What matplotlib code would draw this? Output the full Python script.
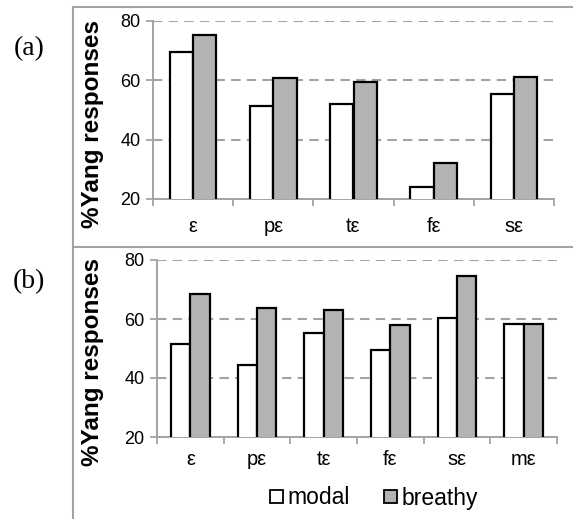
import matplotlib
matplotlib.use("Agg")
import matplotlib.pyplot as plt
import numpy as np
from matplotlib.patches import Patch
from matplotlib.lines import Line2D

cats_a = ["ε", "pε", "tε", "fε", "sε"]
modal_a = [69.4, 51.5, 51.9, 24.0, 55.3]
breathy_a = [75.4, 60.7, 59.5, 32.1, 61.1]

cats_b = ["ε", "pε", "tε", "fε", "sε", "mε"]
modal_b = [51.5, 44.5, 55.3, 49.4, 60.2, 58.4]
breathy_b = [68.5, 63.8, 63.2, 57.9, 74.5, 58.4]

yticks = [20, 40, 60, 80]
series_names = ["modal", "breathy"]
ylabel = "%Yang responses"

plt.rcParams['font.family'] = ['Liberation Sans', 'DejaVu Sans']

W, H = 573, 519
fig = plt.figure(figsize=(W / 100, H / 100), dpi=100)

GRAY = "#a3a3a3"
BAR_GRAY = "#b3b3b3"


def panel(px, cats, modal, breathy, xpad):
    l, r, t, b = px
    ax = fig.add_axes([l / W, 1 - b / H, (r - l) / W, (b - t) / H])
    n = len(cats)
    x = np.arange(n)
    w = 0.29
    ax.bar(x - w / 2, modal, w, bottom=0, color="white", edgecolor="black", linewidth=1.6, zorder=3)
    ax.bar(x + w / 2, breathy, w, bottom=0, color=BAR_GRAY, edgecolor="black", linewidth=1.6, zorder=3)
    ax.set_ylim(20, 80)
    ax.set_xlim(-0.5, n - 0.5)
    ax.set_yticks(yticks)
    ax.set_yticklabels([str(t) for t in yticks], fontsize=13)
    for tv in yticks[1:]:
        ax.axhline(tv, color=GRAY, linestyle=(0, (4.5, 3)), linewidth=1.5, zorder=1)
    ax.set_xticks(x)
    ax.set_xticklabels(cats, fontsize=14.5)
    ax.set_xticks(np.arange(n + 1) - 0.5, minor=True)
    ax.tick_params(axis="x", which="major", length=0, pad=xpad)
    ax.tick_params(axis="x", which="minor", length=5, color=GRAY, width=1.3)
    ax.tick_params(axis="y", length=5, color=GRAY, width=1.3, pad=4)
    for s in ["top", "right"]:
        ax.spines[s].set_visible(False)
    for s in ["left", "bottom"]:
        ax.spines[s].set_color(GRAY)
        ax.spines[s].set_linewidth(1.4)
    return ax


ax_a = panel((153, 554, 21, 199), cats_a, modal_a, breathy_a, 13)
ax_b = panel((157, 557, 260, 437), cats_b, modal_b, breathy_b, 9.5)

fig.text(93 / W, 1 - 124 / H, ylabel, rotation=90, fontsize=17.5, fontweight="bold",
         ha="center", va="center")
fig.text(93 / W, 1 - 362 / H, ylabel, rotation=90, fontsize=17.5, fontweight="bold",
         ha="center", va="center")

# frame lines
fig.add_artist(Line2D([72.5 / W, 72.5 / W], [0, 1 - 7 / H], color=GRAY, linewidth=1.5, transform=fig.transFigure))
fig.add_artist(Line2D([72.5 / W, 1], [1 - 7 / H, 1 - 7 / H], color=GRAY, linewidth=1.5, transform=fig.transFigure))
fig.add_artist(Line2D([72.5 / W, 1], [1 - 247 / H, 1 - 247 / H], color=GRAY, linewidth=1.5, transform=fig.transFigure))

fig.text(29 / W, 1 - 49 / H, "(a)", fontsize=20, family=["Liberation Serif"], va="center", ha="center")
fig.text(29 / W, 1 - 282 / H, "(b)", fontsize=20, family=["Liberation Serif"], va="center", ha="center")

handles = [Patch(facecolor="white", edgecolor="black", linewidth=1.3),
           Patch(facecolor=BAR_GRAY, edgecolor="black", linewidth=1.3)]
fig.legend(handles, series_names, loc="center", bbox_to_anchor=(374 / W, 1 - 498 / H), ncol=2,
           frameon=False, fontsize=16.5, handlelength=0.57, handleheight=0.5, handletextpad=0.2,
           columnspacing=1.5, borderpad=0)

fig.savefig("out.png", dpi=100)
